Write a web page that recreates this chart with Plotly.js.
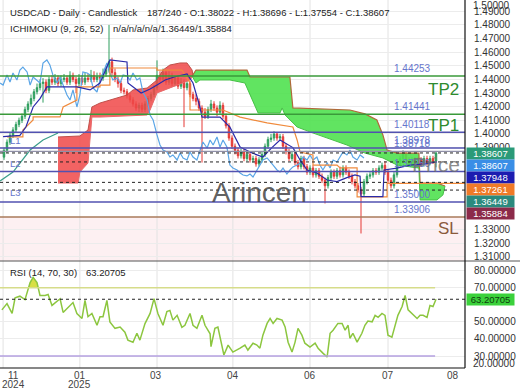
<!DOCTYPE html>
<html><head><meta charset="utf-8">
<script src="https://cdn.plot.ly/plotly-3.0.1.min.js"></script>
<style>html,body{margin:0;padding:0;background:#fff}#chart{width:520px;height:390px}</style>
</head><body><div id="chart"></div>
<script>
// ---------- Candles (bar index 0..144) ----------
const OPEN = [
1.3830,1.3880,1.3940,1.3990,1.4030,1.4070,1.4100,1.4130,1.4180,1.4220,
1.4260,1.4310,1.4340,1.4370,1.4380,1.4320,1.4400,1.4380,1.4410,1.4370,
1.4400,1.4410,1.4380,1.4430,1.4400,1.4370,1.4410,1.4380,1.4410,1.4400,
1.4430,1.4400,1.4420,1.4410,1.4440,1.4470,1.4530,1.4450,1.4400,1.4370,
1.4320,1.4310,1.4280,1.4250,1.4220,1.4190,1.4210,1.4180,1.4220,1.4260,
1.4290,1.4340,1.4430,1.4400,1.4450,1.4380,1.4430,1.4370,1.4410,1.4350,
1.4380,1.4340,1.4370,1.4290,1.4260,1.4240,1.4190,1.4160,1.4130,1.4180,
1.4220,1.4190,1.4160,1.4210,1.4130,1.4060,1.3970,1.3910,1.3880,1.3840,
1.3870,1.3820,1.3850,1.3810,1.3820,1.3780,1.3810,1.3850,1.3910,1.3960,
1.3970,1.4000,1.3970,1.3980,1.3910,1.3870,1.3820,1.3850,1.3790,1.3760,
1.3820,1.3760,1.3720,1.3750,1.3700,1.3730,1.3690,1.3660,1.3620,1.3680,
1.3720,1.3690,1.3730,1.3700,1.3750,1.3720,1.3690,1.3650,1.3620,1.3590,
1.3560,1.3650,1.3690,1.3700,1.3730,1.3720,1.3750,1.3770,1.3720,1.3660,
1.3620,1.3700,1.3780,1.3820,1.3850,1.3810,1.3780,1.3810,1.3770,1.3810,
1.3780,1.3820,1.3790,1.3820,1.38022];
const HIGH = [
1.3900,1.3960,1.4010,1.4050,1.4090,1.4120,1.4150,1.4200,1.4240,1.4290,
1.4330,1.4370,1.4400,1.4410,1.4400,1.4420,1.4430,1.4440,1.4430,1.4430,
1.4440,1.4430,1.4460,1.4450,1.4420,1.4440,1.4430,1.4450,1.4440,1.4470,
1.4460,1.4450,1.4450,1.4480,1.4500,1.4800,1.4560,1.4480,1.4420,1.4390,
1.4340,1.4330,1.4300,1.4270,1.4240,1.4230,1.4230,1.4240,1.4280,1.4310,
1.4360,1.4540,1.4460,1.4480,1.4470,1.4460,1.4450,1.4430,1.4430,1.4410,
1.4400,1.4390,1.4390,1.4310,1.4290,1.4260,1.4210,1.4190,1.4200,1.4250,
1.4240,1.4210,1.4240,1.4230,1.4150,1.4080,1.3990,1.3930,1.3900,1.3890,
1.3890,1.3870,1.3870,1.3840,1.3840,1.3830,1.3870,1.3930,1.3980,1.4000,
1.4020,1.4010,1.4000,1.4000,1.3930,1.3890,1.3870,1.3870,1.3810,1.3840,
1.3840,1.3780,1.3770,1.3770,1.3750,1.3750,1.3710,1.3680,1.3700,1.3740,
1.3740,1.3750,1.3760,1.3770,1.3770,1.3740,1.3710,1.3670,1.3640,1.3610,
1.3670,1.3710,1.3720,1.3750,1.3750,1.3770,1.3790,1.3800,1.3740,1.3680,
1.3720,1.3800,1.3840,1.3880,1.3870,1.3830,1.3830,1.3830,1.3830,1.3830,
1.3840,1.3840,1.3840,1.3840,1.38696];
const LOW = [
1.3810,1.3860,1.3920,1.3970,1.4010,1.4050,1.4080,1.4110,1.4160,1.4200,
1.4240,1.4290,1.4320,1.4230,1.4300,1.4300,1.4360,1.4360,1.4350,1.4350,
1.4380,1.4360,1.4360,1.4380,1.4300,1.4350,1.4360,1.4360,1.4380,1.4380,
1.4380,1.4380,1.4380,1.4390,1.4420,1.4450,1.4430,1.4380,1.4340,1.4300,
1.4290,1.4260,1.4230,1.4200,1.4170,1.4160,1.4160,1.4160,1.4200,1.4240,
1.4270,1.4320,1.4380,1.4380,1.4360,1.4360,1.4350,1.4350,1.4330,1.4330,
1.4050,1.4320,1.4270,1.4240,1.4210,1.4170,1.3790,1.4110,1.4110,1.4160,
1.4170,1.4130,1.4140,1.4110,1.4040,1.3950,1.3890,1.3850,1.3820,1.3820,
1.3800,1.3800,1.3790,1.3790,1.3760,1.3760,1.3790,1.3830,1.3890,1.3940,
1.3950,1.3950,1.3950,1.3890,1.3850,1.3800,1.3800,1.3770,1.3740,1.3740,
1.3740,1.3700,1.3700,1.3680,1.3680,1.3670,1.3640,1.3490,1.3600,1.3660,
1.3670,1.3670,1.3680,1.3680,1.3700,1.3670,1.3630,1.3600,1.3570,1.3270,
1.3540,1.3630,1.3670,1.3680,1.3700,1.3700,1.3730,1.3700,1.3640,1.3600,
1.3600,1.3680,1.3760,1.3800,1.3790,1.3760,1.3760,1.3750,1.3750,1.3760,
1.3760,1.3770,1.3770,1.3780,1.37554];
const CLOSE = [
1.3880,1.3940,1.3990,1.4030,1.4070,1.4100,1.4130,1.4180,1.4220,1.4260,
1.4310,1.4340,1.4370,1.4380,1.4320,1.4400,1.4380,1.4410,1.4370,1.4400,
1.4410,1.4380,1.4430,1.4400,1.4370,1.4410,1.4380,1.4410,1.4400,1.4430,
1.4400,1.4420,1.4410,1.4440,1.4470,1.4530,1.4450,1.4400,1.4370,1.4320,
1.4310,1.4280,1.4250,1.4220,1.4190,1.4210,1.4180,1.4220,1.4260,1.4290,
1.4340,1.4430,1.4400,1.4450,1.4380,1.4430,1.4370,1.4410,1.4350,1.4380,
1.4340,1.4370,1.4290,1.4260,1.4240,1.4190,1.4160,1.4130,1.4180,1.4220,
1.4190,1.4160,1.4210,1.4130,1.4060,1.3970,1.3910,1.3880,1.3840,1.3870,
1.3820,1.3850,1.3810,1.3820,1.3780,1.3810,1.3850,1.3910,1.3960,1.3970,
1.4000,1.3970,1.3980,1.3910,1.3870,1.3820,1.3850,1.3790,1.3760,1.3820,
1.3760,1.3720,1.3750,1.3700,1.3730,1.3690,1.3660,1.3620,1.3680,1.3720,
1.3690,1.3730,1.3700,1.3750,1.3720,1.3690,1.3650,1.3620,1.3590,1.3560,
1.3650,1.3690,1.3700,1.3730,1.3720,1.3750,1.3770,1.3720,1.3660,1.3620,
1.3700,1.3780,1.3820,1.3850,1.3810,1.3780,1.3810,1.3770,1.3810,1.3780,
1.3820,1.3790,1.3820,1.3800,1.38607];

// ---------- Ichimoku lines (x in bar index) ----------
const TENKAN_X = [-0.3,5.3,7.3,9.7,12,14.3,24.3,28.7,32,34,35.3,41,41.3,45.7,48.7,51,53.7,57,61,63,65.3,66,72,75.3,78.7,82.7,86.3,89.3,92,96.3,98.7,101,104.3,107.7,111,114.3,117,118.7,119,126.3,126.7,131,135.3,140.3,144.3];
const TENKAN_Y = [1.3980,1.3990,1.4051,1.4198,1.4260,1.4345,1.4345,1.4323,1.4374,1.4470,1.4543,1.4528,1.4374,1.4301,1.4330,1.4360,1.4396,1.4420,1.4440,1.4374,1.4200,1.4124,1.4124,1.4050,1.3904,1.3860,1.3831,1.3900,1.3956,1.3900,1.3809,1.3736,1.3714,1.3662,1.3650,1.3680,1.3700,1.3690,1.3540,1.3540,1.3736,1.3750,1.3772,1.3780,1.3795];
const KIJUN_X = [1,6.3,6.3,9.7,9.7,18.7,19.7,24.3,24.3,32,32,35.3,35.3,51,51,59.3,62,62,73,78.7,87.7,96.3,97.7,98.7,103,103,111,112,117.7,117.7,127.7,127.7,153.7];
const KIJUN_Y = [1.3978,1.3978,1.4029,1.4103,1.4125,1.4125,1.4198,1.4249,1.4345,1.4345,1.4359,1.4359,1.4484,1.4484,1.4469,1.4469,1.4374,1.4176,1.4176,1.4124,1.4081,1.4051,1.3956,1.3868,1.3846,1.3772,1.3772,1.3751,1.3751,1.3538,1.3538,1.3638,1.3638];
const CHIKOU_X = [-1.3,-0.3,1,2,3,4.3,5.3,6.3,7.7,8.7,9.7,11,12,13,14.3,15.3,16.3,17.7,18.7,19.7,21,22,23,24.3,25.3,26.3,27.7,28.7,29.7,31,32,33,34.3,35.3,36.3,37.7,38.7,39.7,41,42,43,44.3,45.3,46.3,47.7,48.7,49.7,51,52,53,54.3,55.3,56.3,57.7,58.7,59.7,61,62,63,64.3,65.3,66.3,67.7,68.7,69.7,71,72,73,74.3,75.3,76.3,77.7,78.7,79.7,81,82,83,84.3,85.3,86.3,87.7,88.7,89.7,91,92,93,94.3,95.3,96.3,97.7,98.7,99.7,101,102,103,104.3,105.3,106.3,107.7,108.7,109.7,111,112,113,114.3,115.3,116.3,117.7,118.7,120];
const CHIKOU_Y = [1.4374,1.4359,1.4433,1.4381,1.4447,1.4396,1.4469,1.4491,1.4455,1.4359,1.4418,1.4396,1.4374,1.4521,1.4543,1.4506,1.4433,1.4374,1.4418,1.4359,1.4286,1.4249,1.4323,1.4198,1.4286,1.4455,1.4447,1.4433,1.4337,1.4308,1.4396,1.4447,1.4521,1.4447,1.4396,1.4411,1.4374,1.4433,1.4425,1.4396,1.4447,1.4396,1.4411,1.4308,1.4249,1.4139,1.4103,1.3993,1.3919,1.3882,1.3868,1.3831,1.3846,1.3809,1.3860,1.3824,1.3809,1.3868,1.3831,1.3809,1.3882,1.3941,1.3897,1.3956,1.3919,1.3978,1.3904,1.3956,1.3904,1.3772,1.3750,1.3736,1.3714,1.3699,1.3692,1.3706,1.3684,1.3736,1.3772,1.3809,1.3824,1.3794,1.3772,1.3736,1.3721,1.3750,1.3706,1.3736,1.3758,1.3772,1.3787,1.3831,1.3809,1.3846,1.3809,1.3831,1.3772,1.3736,1.3787,1.3750,1.3809,1.3794,1.3831,1.3868,1.3846,1.3882,1.3831,1.3809,1.3846,1.3824];
const SPAN_PRE_X = [-1.3,3,8.7,13,18];
const SPAN_PRE_Y = [1.3655,1.3721,1.3882,1.3956,1.4007];
const RED_UP_X = [18,25.3,28,29.3,32,35.3,41,43,47.7,51,53,55.3,58.7,61,62.7,63];
const RED_UP_Y = [1.3978,1.3985,1.4029,1.4198,1.4227,1.4249,1.4286,1.4323,1.4337,1.4396,1.4469,1.4506,1.4521,1.4521,1.4469,1.4425];
const RED_LO_X = [18,24.7,25.3,28,29.3,32,47.7,48.7,51,56.3,62,63];
const RED_LO_Y = [1.3640,1.3640,1.3721,1.3787,1.4124,1.4124,1.4139,1.4176,1.4301,1.4345,1.4396,1.4425];
const GREEN_UP_X = [62.7,64,81,82,95.3,96.3,115.3,120.3,124.3,126.3,127.7,131,138.3,138.7,144.3,147];
const GREEN_UP_Y = [1.4425,1.4469,1.4469,1.4418,1.4418,1.4191,1.4176,1.4147,1.4103,1.3993,1.3882,1.3860,1.3860,1.3640,1.3640,1.3618];
const GREEN_LO_X = [62.7,64,65.3,75.3,80.3,82,84.7,92,92.7,93.7,97.7,103,108.7,114.3,120.3,126.3,131,135.3,138.3,138.7,144.3,146.3,147];
const GREEN_LO_Y = [1.4425,1.4374,1.4396,1.4396,1.4374,1.4286,1.4154,1.4154,1.4191,1.4139,1.4051,1.4007,1.3963,1.3919,1.3860,1.3824,1.3772,1.3758,1.3750,1.3516,1.3516,1.3552,1.3618];

// ---------- RSI ----------
const RSI_X = [-0.7,1,2.7,3.7,5.3,7,8.7,9.7,11,12,13.7,14.7,16,17.7,18.7,19.7,22,23,24.3,26,27,28,29.3,31,32,33,34.3,35.3,37,38.7,40.3,41.3,43,44.3,45.3,47,48.7,50,51.3,53,54.3,55.3,56.3,57.7,59.3,60.3,62,63,64.3,66,67,68.7,69,70.3,71.3,72.7,73.3,74.7,76.3,78.7,80.3,81.3,83,84.3,85.3,86.3,87.7,88.7,89.7,91,92.7,93.7,94.7,96,97,98,99.3,100.3,102,103.7,104.7,106.3,107.7,108.7,109.7,111.3,112.7,113.7,114.7,115.3,116.3,117.7,119.3,120.3,121.3,122.7,123.7,124.7,126,127,128,129.3,130.3,131.3,132.7,133.7,134.7,136,137.7,138.7,139.7,141,142,143,144];
const RSI_Y = [57,60.7,55,64,65,63,73,76,73,65.4,65.4,66,59.6,62,63.5,55.5,59.6,61.3,54.9,52,62.5,53,54.9,48,53,53,62.5,50,46.2,47,43.9,39.3,38.1,43.3,39.3,49,54.9,63.6,54.9,48,56,56.7,51,53.8,46.8,48,54.9,48,46.2,53.8,48,43,35.5,46.2,47,36.4,30.6,36.4,32.3,34.6,36.4,33.5,37.5,36.4,34.6,42.2,49.1,52,49.1,52,51,47,38.1,32.3,38,46.2,42.2,37.5,35.2,37.5,34.6,31.7,29.4,43.3,45.1,49.1,49.1,45.1,48,40.4,43.3,38.1,43.3,48,50.5,50,53.8,52.6,54.9,53.8,42.2,41,48,53.8,59,65.4,57,54.9,52,53.8,53.8,52.6,59.6,59,63.20705];
const OB_X = [8.2,8.7,9.7,11,11.4];
const OB_Y = [70,73,76,73,70];
const RSI_UPPER = 70, RSI_LOWER = 30, RSI_LAST = 63.20705;

// ---------- Levels, labels, ticks ----------
const TP_LEVELS = [1.44253, 1.41441];
const BLUE_LEVELS = [1.40118, 1.38978, 1.37250, 1.35000];
const GRAY_LEVELS = [1.38718];
const SL_LEVEL = 1.33906;
const DASH_LEVELS = [1.38607, 1.37948, 1.36449, 1.35884];
const LABEL_LEVELS = [1.44253, 1.41441, 1.40118, 1.38978, 1.38718, 1.37250, 1.35000, 1.33906];
const BOX_VALUES = [1.38607, 1.38607, 1.37948, 1.37261, 1.36449, 1.35884];
const BOX_COLORS = ['#2a9a78', '#3a8ee6', '#1c1cb0', '#f07a28', '#2b8a7e', '#8c2a4a'];
const PRICE_TICKS = [1.31, 1.32, 1.33, 1.39, 1.40, 1.41, 1.42, 1.43, 1.44, 1.45, 1.46, 1.47, 1.48, 1.49];
const RSI_TICKS = [30, 40, 50, 70, 80];
const TICK_POS = [3, 25.3, 50.7, 76.3, 102, 128, 149.7];
const TICK_MONTH = ['11', '01', '03', '04', '06', '07', '08'];
const TICK_YEAR = ['2024', '2025', '', '', '', '', ''];
const GRID_POS = [-0.3, 25.3, 51, 76.3, 102, 128];

const PW = 465, PH = 368;
const px = v => v / PW;
const py = v => (PH - v) / PH;
const FONT = 'Liberation Sans, Arial, sans-serif';

const barX = OPEN.map((_, i) => i);
const poly = (ux, uy, lx, ly) => ({x: ux.concat(lx.slice().reverse()), y: uy.concat(ly.slice().reverse())});
const red = poly(RED_UP_X, RED_UP_Y, RED_LO_X, RED_LO_Y);
const green = poly(GREEN_UP_X, GREEN_UP_Y, GREEN_LO_X, GREEN_LO_Y);

const traces = [
  {type:'scatter', mode:'lines', x: red.x, y: red.y, fill:'toself', fillcolor:'rgba(240,72,72,0.85)', line:{width:0}, hoverinfo:'skip'},
  {type:'scatter', mode:'lines', x: green.x, y: green.y, fill:'toself', fillcolor:'rgba(80,225,80,0.9)', line:{width:0}, hoverinfo:'skip'},
  {type:'scatter', mode:'lines', x: RED_UP_X, y: RED_UP_Y, line:{color:'#c0504a', width:1}},
  {type:'scatter', mode:'lines', x: RED_LO_X, y: RED_LO_Y, line:{color:'#e86a6a', width:1}},
  {type:'scatter', mode:'lines', x: GREEN_UP_X, y: GREEN_UP_Y, line:{color:'#b0683a', width:1.2}},
  {type:'scatter', mode:'lines', x: GREEN_LO_X, y: GREEN_LO_Y, line:{color:'#48c048', width:1}},
  {type:'scatter', mode:'lines', x: SPAN_PRE_X, y: SPAN_PRE_Y, line:{color:'#3a9e8a', width:1.2}},
  {type:'scatter', mode:'lines', x: CHIKOU_X, y: CHIKOU_Y, line:{color:'#5aa5e6', width:1.2}},
  {type:'candlestick', x: barX, open: OPEN, high: HIGH, low: LOW, close: CLOSE,
   increasing:{line:{color:'#2e9e5e', width:1}, fillcolor:'#2e9e5e'},
   decreasing:{line:{color:'#e53935', width:1}, fillcolor:'#e53935'}, whiskerwidth:0, hoverinfo:'skip'},
  {type:'scatter', mode:'lines', x: KIJUN_X, y: KIJUN_Y, line:{color:'#f08a3c', width:1.2}},
  {type:'scatter', mode:'lines', x: TENKAN_X, y: TENKAN_Y, line:{color:'#2a2aa8', width:1.2}},
  {type:'scatter', mode:'lines', x: OB_X, y: OB_Y, yaxis:'y2', fill:'toself', fillcolor:'#d8df45', line:{width:0}},
  {type:'scatter', mode:'lines', x: RSI_X, y: RSI_Y, yaxis:'y2', line:{color:'#8cc63f', width:1.5}}
];

const shapes = [];
shapes.push({type:'rect', xref:'paper', x0:0, x1:1, yref:'y', y0:1.3068, y1:SL_LEVEL, fillcolor:'#fdf0f2', line:{width:0}, layer:'below'});
GRID_POS.forEach(g => shapes.push({type:'line', xref:'x', x0:g, x1:g, yref:'paper', y0:0, y1:1, line:{color:'#e2e2e2', width:1}, layer:'below'}));
TP_LEVELS.forEach(l => shapes.push({type:'line', xref:'paper', x0:0, x1:1, yref:'y', y0:l, y1:l, line:{color:'#3a9a3a', width:1.5}}));
BLUE_LEVELS.forEach(l => shapes.push({type:'line', xref:'paper', x0:0, x1:1, yref:'y', y0:l, y1:l, line:{color:'#5252b0', width:1.5}}));
GRAY_LEVELS.forEach(l => shapes.push({type:'line', xref:'paper', x0:0, x1:1, yref:'y', y0:l, y1:l, line:{color:'#9090a8', width:1.2}}));
shapes.push({type:'line', xref:'paper', x0:0, x1:1, yref:'y', y0:SL_LEVEL, y1:SL_LEVEL, line:{color:'#a87a5a', width:1.5}});
DASH_LEVELS.forEach(l => shapes.push({type:'line', xref:'paper', x0:0, x1:1, yref:'y', y0:l, y1:l, line:{color:'#222', width:1, dash:'3px,3px'}}));
shapes.push({type:'line', xref:'x', x0:-1.333, x1:143.7, yref:'y2', y0:RSI_UPPER, y1:RSI_UPPER, line:{color:'#d6dc8a', width:1.5}});
shapes.push({type:'line', xref:'x', x0:-1.333, x1:143.7, yref:'y2', y0:RSI_LOWER, y1:RSI_LOWER, line:{color:'#b4a0e0', width:1.5}});
shapes.push({type:'line', xref:'paper', x0:0, x1:1, yref:'y2', y0:RSI_LAST, y1:RSI_LAST, line:{color:'#222', width:1, dash:'3px,3px'}});
shapes.push({type:'line', xref:'paper', x0:0, x1:520/PW, yref:'paper', y0:py(261), y1:py(261), line:{color:'#555', width:1}});
shapes.push({type:'line', xref:'paper', x0:1, x1:1, yref:'paper', y0:0, y1:1, line:{color:'#111', width:1.2}});
shapes.push({type:'line', xref:'paper', x0:0, x1:1, yref:'paper', y0:0, y1:0, line:{color:'#111', width:1.2}});

const ann = [];
const txt = (x, y, text, opt) => Object.assign({xref:'paper', yref:'paper', x: px(x), y: py(y), text, showarrow:false, xanchor:'left', yanchor:'middle', font:{family:FONT, size:9.5, color:'#222'}}, opt || {});
ann.push(txt(8, 13, 'USDCAD - Daily - Candlestick'));
ann.push(txt(145, 13, '187/240 - O:1.38022 - H:1.38696 - L:1.37554 - C:1.38607'));
ann.push(txt(8, 29, 'ICHIMOKU (9, 26, 52)'));
ann.push(txt(111, 29, 'n/a/n/a/n/a/1.36449/1.35884'));
ann.push(txt(8, 272, 'RSI (14, 70, 30)'));
ann.push(txt(84, 272, RSI_LAST.toFixed(5)));
ann.push(txt(259, 192, 'Arincen', {xanchor:'center', font:{family:FONT, size:28, color:'rgba(70,70,70,0.85)'}}));
LABEL_LEVELS.forEach(l => ann.push({xref:'paper', x:px(392), xanchor:'left', yref:'y', y:l, yanchor:'bottom', yshift:0, text:l.toFixed(5), showarrow:false, font:{family:FONT, size:10, color:'#6675cc'}}));
ann.push(txt(436, 164, 'Price', {xanchor:'center', font:{family:FONT, size:21, color:'rgba(110,110,110,0.8)'}}));
ann.push(txt(461, 89, 'TP2', {xanchor:'right', font:{family:FONT, size:17, color:'#2e8b2e'}}));
ann.push(txt(461, 126, 'TP1', {xanchor:'right', font:{family:FONT, size:17, color:'#2e8b2e'}}));
ann.push(txt(461, 229, 'SL', {xanchor:'right', font:{family:FONT, size:17, color:'#8b5a3c'}}));
ann.push(txt(8, 140, 'L1', {font:{family:FONT, size:9.5, color:'#6675cc'}}));
ann.push(txt(8, 163, 'L2', {font:{family:FONT, size:9.5, color:'#6675cc'}}));
ann.push(txt(8, 193, 'L3', {font:{family:FONT, size:9.5, color:'#6675cc'}}));
BOX_VALUES.forEach((v, k) => ann.push({xref:'paper', x:1, xanchor:'left', xshift:1, yref:'paper', y:py(153 + 12 * k), yanchor:'middle', text:v.toFixed(5), showarrow:false, bgcolor:BOX_COLORS[k], width:46, height:10, borderpad:0.5, font:{family:FONT, size:9.5, color:'#fff'}}));
ann.push({xref:'paper', x:1, xanchor:'left', xshift:1, yref:'y2', y:RSI_LAST, yanchor:'middle', text:RSI_LAST.toFixed(5), showarrow:false, bgcolor:'#3bd13b', width:46, height:10, borderpad:0.5, font:{family:FONT, size:9.5, color:'#0d3d0d'}});
ann.push(txt(471, 5, '1.50000', {font:{family:FONT, size:10, color:'#333'}}));
ann.push(txt(471, 363, '20.00000', {font:{family:FONT, size:10, color:'#333'}}));
TICK_POS.forEach((p, k) => {
  ann.push({xref:'x', x:p, yref:'paper', y:py(375), xanchor:'center', yanchor:'middle', text:TICK_MONTH[k], showarrow:false, font:{family:FONT, size:10, color:'#444'}});
  if (TICK_YEAR[k]) ann.push({xref:'x', x:p, yref:'paper', y:py(384), xanchor:'center', yanchor:'middle', text:TICK_YEAR[k], showarrow:false, font:{family:FONT, size:10, color:'#444'}});
});

const layout = {
  width:520, height:390, margin:{l:0, r:55, t:0, b:22},
  paper_bgcolor:'#fff', plot_bgcolor:'#fff', showlegend:false,
  font:{family:FONT, size:10, color:'#333'},
  xaxis:{anchor:'y2', range:[-1.333, 153.667], showticklabels:false,
         showgrid:false, zeroline:false, showline:false, ticks:'', rangeslider:{visible:false}, fixedrange:true},
  yaxis:{domain:[py(261), 1], anchor:'x', side:'right', range:[1.3068, 1.49829], tickmode:'array', tickvals:PRICE_TICKS,
         tickformat:'.5f', gridcolor:'#ececec', zeroline:false, ticks:'outside', ticklen:6, tickcolor:'rgba(0,0,0,0)',
         tickfont:{family:FONT, size:10, color:'#333'}},
  yaxis2:{domain:[0, py(262)], anchor:'x', side:'right', range:[23, 85], tickmode:'array', tickvals:RSI_TICKS,
          tickformat:'.5f', gridcolor:'#ececec', zeroline:false, ticks:'outside', ticklen:6, tickcolor:'rgba(0,0,0,0)',
          tickfont:{family:FONT, size:10, color:'#333'}},
  shapes, annotations: ann
};
Plotly.newPlot('chart', traces, layout, {staticPlot:true, displayModeBar:false});
</script>
</body></html>
